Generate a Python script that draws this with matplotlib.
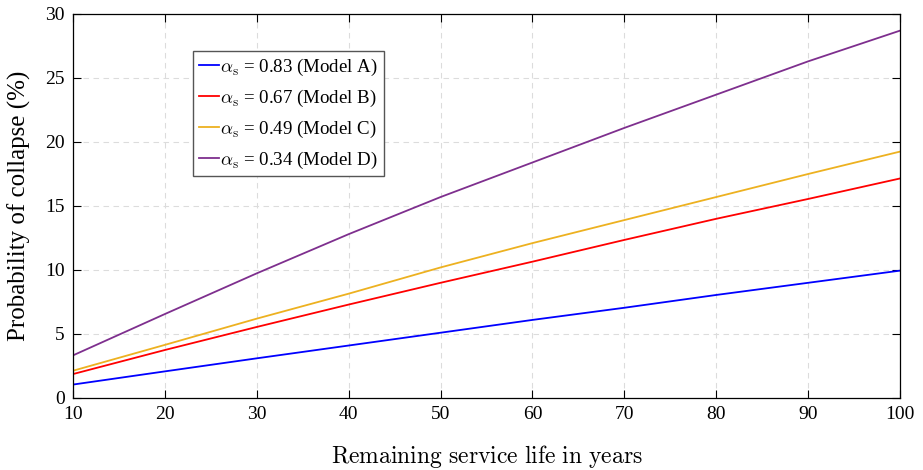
import matplotlib
matplotlib.use("Agg")
import matplotlib.pyplot as plt

years = [10, 20, 30, 40, 50, 60, 70, 80, 90, 100]
model_a = [1.05, 2.08, 3.1, 4.1, 5.1, 6.1, 7.05, 8.05, 9.0, 9.95]
model_b = [1.87, 3.75, 5.55, 7.3, 9.0, 10.65, 12.35, 14.0, 15.55, 17.15]
model_c = [2.13, 4.15, 6.2, 8.15, 10.2, 12.1, 13.9, 15.7, 17.5, 19.25]
model_d = [3.33, 6.56, 9.74, 12.8, 15.7, 18.4, 21.1, 23.7, 26.3, 28.7]
labels = [r"$\alpha_{\mathrm{s}}$ = 0.83 (Model A)",
          r"$\alpha_{\mathrm{s}}$ = 0.67 (Model B)",
          r"$\alpha_{\mathrm{s}}$ = 0.49 (Model C)",
          r"$\alpha_{\mathrm{s}}$ = 0.34 (Model D)"]
colors = ["#0000ff", "#ff0000", "#edb120", "#7e2f8e"]

plt.rcParams["font.family"] = ["Liberation Serif", "DejaVu Serif"]
plt.rcParams["mathtext.fontset"] = "cm"

fig = plt.figure(figsize=(9.23, 4.70), dpi=100)
ax = fig.add_axes([73/923, 1-398/470, (900-73)/923, (398-14)/470])

for ys, lab, c in zip([model_a, model_b, model_c, model_d], labels, colors):
    ax.plot(years, ys, color=c, lw=1.3, label=lab)

ax.set_xlim(10, 100)
ax.set_ylim(0, 30)
ax.set_xticks(range(10, 101, 10))
ax.set_yticks(range(0, 31, 5))
ax.tick_params(direction="in", length=6, width=0.8, top=True, right=True,
               labelsize=14, pad=6)
ax.grid(True, ls=(0, (5, 4)), color="#dcdcdc", lw=0.8)
for s in ax.spines.values():
    s.set_linewidth(0.9)

ax.set_xlabel(r"$\mathrm{Remaining\ service\ life\ in\ years}$", fontsize=17, labelpad=14)
ax.set_ylabel("Probability of collapse (%)", fontsize=18, labelpad=10)

leg = ax.legend(loc="upper left", bbox_to_anchor=(120/827, 1-(51-14)/384),
                fontsize=13.6, frameon=True, fancybox=False, handlelength=1.1,
                handletextpad=0.05, borderaxespad=0, borderpad=0.3, labelspacing=0.52)
leg.get_frame().set_edgecolor("#555555")
leg.get_frame().set_linewidth(1.0)
leg.get_frame().set_alpha(1)

fig.savefig("out.png", dpi=100)
